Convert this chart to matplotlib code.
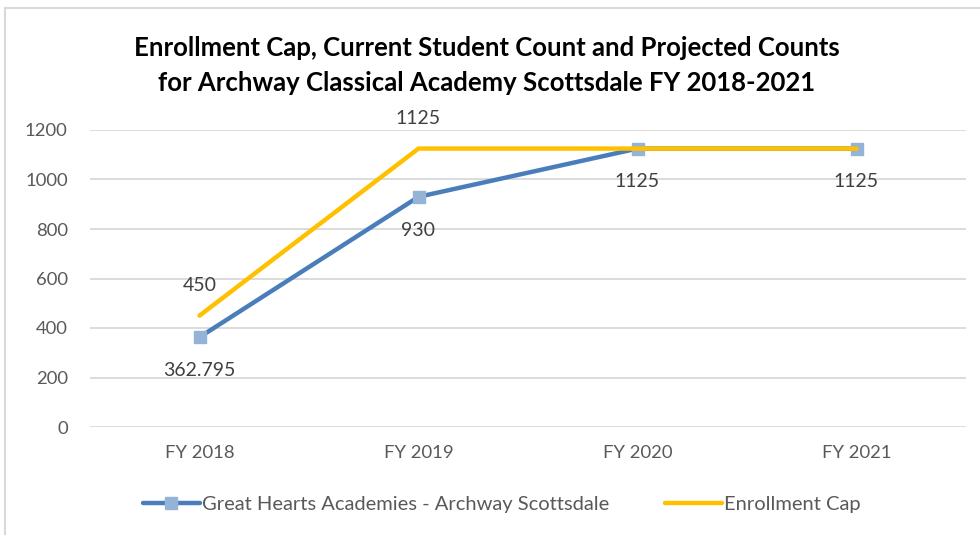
import matplotlib.pyplot as plt
from matplotlib.patches import Rectangle

years = ['FY 2018', 'FY 2019', 'FY 2020', 'FY 2021']
archway = [362.795, 930, 1125, 1125]
cap = [450, 1125, 1125, 1125]
archway_labels = ['362.795', '930', '1125', '1125']
cap_labels = ['450', '1125', None, None]

plt.rcParams['font.family'] = ['Lato', 'DejaVu Sans']

fig = plt.figure(figsize=(9.8, 5.35), dpi=100)
fig.patches.append(Rectangle((0.005, -0.01), 1.1, 0.995, transform=fig.transFigure,
                             fill=False, edgecolor='#d9d9d9', linewidth=1.5))
ax = fig.add_axes([90 / 980, 1 - 427 / 535, 876 / 980, 297 / 535])

x = range(len(years))
ax.plot(x, archway, color='#4A7EBB', linewidth=3.2, solid_capstyle='round',
        marker='s', markersize=9, markerfacecolor='#95B3D7', markeredgecolor='#95B3D7',
        label='Great Hearts Academies - Archway Scottsdale', zorder=3)
# cap line sits on top of the markers
ax.plot(x, cap, color='#FFC000', linewidth=3.2, solid_capstyle='round',
        label='Enrollment Cap', zorder=4)

# data labels
for i, (v, t) in enumerate(zip(archway, archway_labels)):
    ax.annotate(t, (i, v), xytext=(0, -24), textcoords='offset points',
                ha='center', va='center', fontsize=14, color='#404040')
for i, (v, t) in enumerate(zip(cap, cap_labels)):
    if t is None:
        continue
    ax.annotate(t, (i, v), xytext=(0, 22), textcoords='offset points',
                ha='center', va='center', fontsize=14, color='#404040')

ax.set_xlim(-0.5, 3.5)
ax.set_ylim(0, 1200)
ax.set_yticks(range(0, 1201, 200))
ax.set_xticks(list(x))
ax.set_xticklabels(years)
ax.grid(axis='y', color='#d9d9d9', linewidth=1.3)
ax.set_axisbelow(True)
for s in ax.spines.values():
    s.set_visible(False)
ax.tick_params(length=0, labelsize=13.3, labelcolor='#595959')
ax.tick_params(axis='y', pad=16)
ax.tick_params(axis='x', pad=13)

fig.text(0.497, 0.877, 'Enrollment Cap, Current Student Count and Projected Counts\n'
         'for Archway Classical Academy Scottsdale FY 2018-2021',
         ha='center', va='center', fontsize=18.5, fontweight='bold',
         color='black', linespacing=1.55)

handles, labels = ax.get_legend_handles_labels()
fig.legend(handles, labels, loc='center', bbox_to_anchor=(0.512, 0.057),
           ncol=2, frameon=False, fontsize=14.5, handlelength=2.8, handletextpad=0.1,
           columnspacing=2.8, labelcolor='#595959')

fig.savefig('out.png', dpi=100)
